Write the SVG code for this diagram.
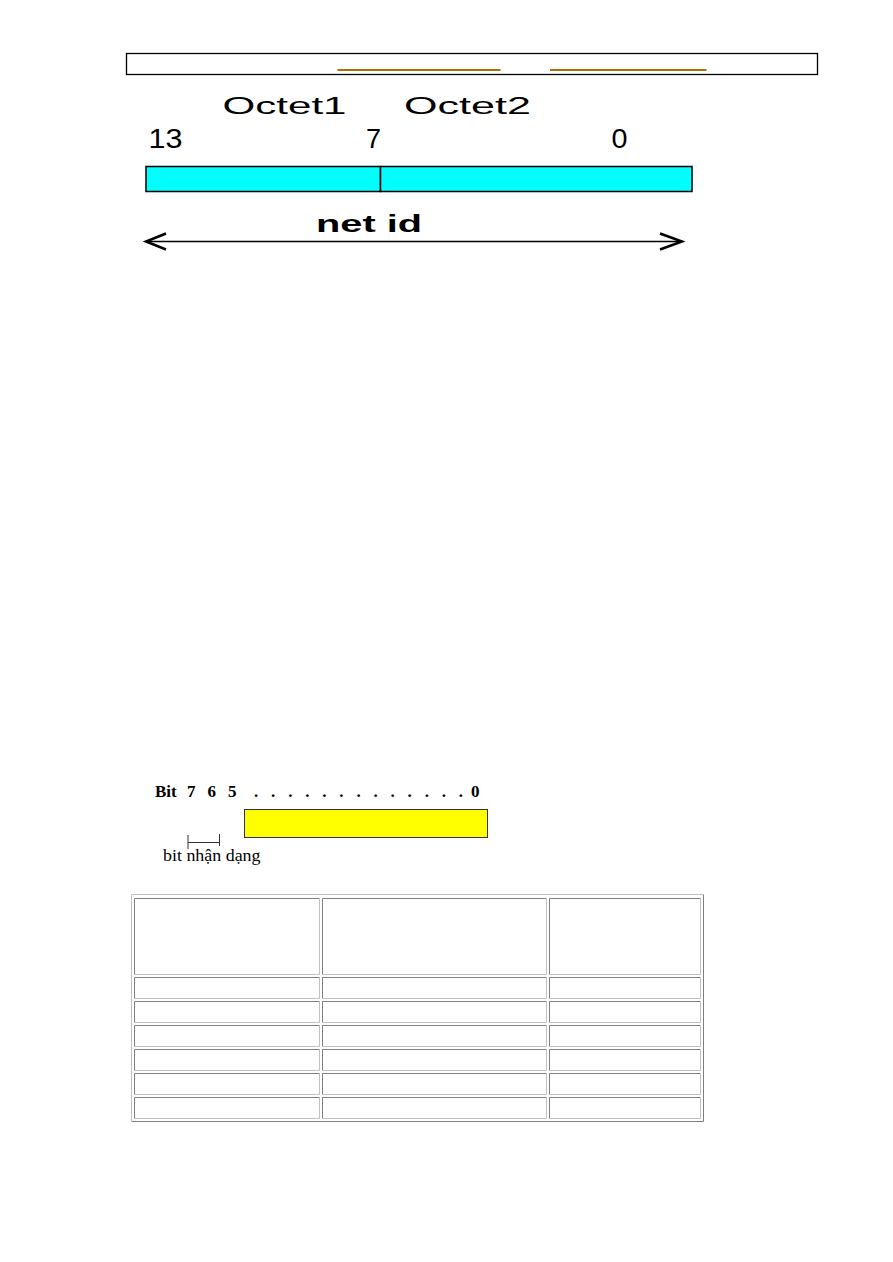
<svg xmlns="http://www.w3.org/2000/svg" width="893" height="1262" viewBox="0 0 893 1262">
<style>
.sans{font-family:"Liberation Sans",Arial,sans-serif;fill:#000}
.serif{font-family:"Liberation Serif","Times New Roman",serif;fill:#000}
.dark{fill:none;stroke:#808080;stroke-width:1}
.light{fill:none;stroke:#c0c0c0;stroke-width:1}
.link{stroke:#a8700a;stroke-width:2}
</style>
<rect width="893" height="1262" fill="#fff"/>
<g id="header">
<rect x="126.5" y="53.5" width="691" height="21" fill="none" stroke="#000" stroke-width="1.3"/>
<line class="link" x1="337.5" y1="70" x2="500.5" y2="70"/>
<line class="link" x1="550" y1="70" x2="706.5" y2="70"/>
</g>
<g id="octet-diagram">
<text class="sans" x="222.5" y="114" font-size="23.5" textLength="124" lengthAdjust="spacingAndGlyphs">Octet1</text>
<text class="sans" x="404" y="114" font-size="23.5" textLength="127" lengthAdjust="spacingAndGlyphs">Octet2</text>
<text class="sans" x="148.5" y="148.3" font-size="28" textLength="34" lengthAdjust="spacingAndGlyphs">13</text>
<text class="sans" x="366" y="148.3" font-size="28" textLength="15" lengthAdjust="spacingAndGlyphs">7</text>
<text class="sans" x="611.5" y="148.3" font-size="28" textLength="16" lengthAdjust="spacingAndGlyphs">0</text>
<g id="octet1"><rect x="146" y="166.5" width="234.5" height="25" fill="#00ffff" stroke="#000" stroke-width="1.5"/></g>
<g id="octet2"><rect x="380.5" y="166.5" width="311.5" height="25" fill="#00ffff" stroke="#000" stroke-width="1.5"/></g>
<text class="sans" x="316" y="231.7" font-size="23" font-weight="bold" textLength="106" lengthAdjust="spacingAndGlyphs">net id</text>
<g id="connectors" fill="none" stroke="#000">
<line x1="147" y1="241.5" x2="681" y2="241.5" stroke-width="1.5"/>
<polyline points="166,233.5 146,241.5 166,249.5" stroke-width="2.5" stroke-linejoin="miter"/>
<polyline points="660,233.5 682,241.5 660,249.5" stroke-width="2.5" stroke-linejoin="miter"/>
</g>
</g>
<g id="bit-diagram">
<text class="serif" y="797" font-size="17" font-weight="bold"><tspan x="155">Bit</tspan><tspan x="187">7</tspan><tspan x="207.5">6</tspan><tspan x="228">5</tspan><tspan x="254" textLength="209" lengthAdjust="spacing">. . . . . . . . . . . . .</tspan><tspan x="471">0</tspan></text>
<rect id="yellow-field" x="244.5" y="809.5" width="243" height="28" fill="#ffff00" stroke="#333" stroke-width="1"/>
<path d="M188,835V849M188,842.5H219.5M219.5,834V846" fill="none" stroke="#333" stroke-width="1"/>
<text class="serif" x="163" y="861" font-size="17" textLength="97.5" lengthAdjust="spacingAndGlyphs">bit nhận dạng</text>
</g>
<g id="table">
<path class="light" d="M131.5,1121.5V894.5H703.5"/>
<path class="dark" d="M703.5,894.5V1121.5H131.5"/>
<path class="dark" d="M134.5,974.5V898.5H319.5M134.5,998.5V977.5H319.5M134.5,1022.5V1001.5H319.5M134.5,1046.5V1025.5H319.5M134.5,1070.5V1049.5H319.5M134.5,1094.5V1073.5H319.5M134.5,1118.5V1097.5H319.5
M322.5,974.5V898.5H546.5M322.5,998.5V977.5H546.5M322.5,1022.5V1001.5H546.5M322.5,1046.5V1025.5H546.5M322.5,1070.5V1049.5H546.5M322.5,1094.5V1073.5H546.5M322.5,1118.5V1097.5H546.5
M549.5,974.5V898.5H700.5M549.5,998.5V977.5H700.5M549.5,1022.5V1001.5H700.5M549.5,1046.5V1025.5H700.5M549.5,1070.5V1049.5H700.5M549.5,1094.5V1073.5H700.5M549.5,1118.5V1097.5H700.5"/>
<path class="light" d="M319.5,898.5V974.5H134.5M319.5,977.5V998.5H134.5M319.5,1001.5V1022.5H134.5M319.5,1025.5V1046.5H134.5M319.5,1049.5V1070.5H134.5M319.5,1073.5V1094.5H134.5M319.5,1097.5V1118.5H134.5
M546.5,898.5V974.5H322.5M546.5,977.5V998.5H322.5M546.5,1001.5V1022.5H322.5M546.5,1025.5V1046.5H322.5M546.5,1049.5V1070.5H322.5M546.5,1073.5V1094.5H322.5M546.5,1097.5V1118.5H322.5
M700.5,898.5V974.5H549.5M700.5,977.5V998.5H549.5M700.5,1001.5V1022.5H549.5M700.5,1025.5V1046.5H549.5M700.5,1049.5V1070.5H549.5M700.5,1073.5V1094.5H549.5M700.5,1097.5V1118.5H549.5"/>
</g>
</svg>
